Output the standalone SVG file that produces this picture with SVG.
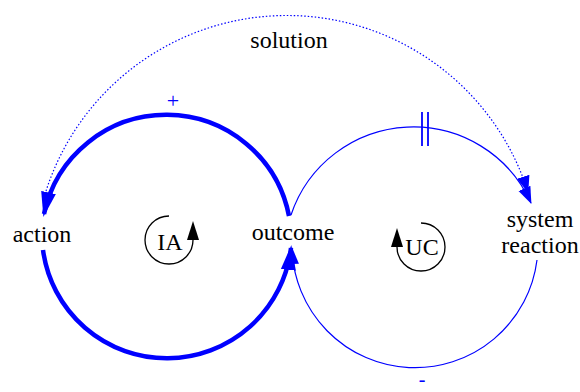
<svg xmlns="http://www.w3.org/2000/svg" width="580" height="392" viewBox="0 0 580 392">
<style>
text{font-family:"Liberation Serif","Times New Roman","DejaVu Serif",serif;fill:#000}
.lbl{font-size:24px;text-anchor:middle}
.pol{font-size:22px;fill:#0000ff;text-anchor:middle}
.thick{fill:none;stroke:#0000ff;stroke-width:4.5}
.thin{fill:none;stroke:#0000ff;stroke-width:1.2}
.dot{fill:none;stroke:#0000ff;stroke-width:1.2;stroke-dasharray:1.5 2}
.loop{fill:none;stroke:#000;stroke-width:1.3}
</style>
<defs>
<marker id="ahThick" markerUnits="userSpaceOnUse" markerWidth="26" markerHeight="16" refX="22" refY="7.5" orient="auto">
<path d="M0,0 L25,7.5 L0,15 z" fill="#0000ff"/>
</marker>
<marker id="ahThin" markerUnits="userSpaceOnUse" markerWidth="18" markerHeight="14" refX="16" refY="6.5" orient="auto">
<path d="M0,0 L17,6.5 L0,13 z" fill="#0000ff"/>
</marker>
<marker id="ahLoop" markerUnits="userSpaceOnUse" markerWidth="20" markerHeight="13" refX="0" refY="6" orient="auto">
<path d="M0,0 L19,6 L0,12 z" fill="#000"/>
</marker>
</defs>
<g id="connectors">
<path class="dot" d="M46,191 A253,253 0 0 1 528,192" marker-end="url(#ahThin)"/>
<path class="thick" d="M289,216 A125,125 0 0 0 44,214" marker-end="url(#ahThick)"/>
<path class="thick" d="M43,250 A125,125 0 0 0 291,248" marker-end="url(#ahThick)"/>
<path class="thin" d="M291,215 A129,129 0 0 1 531,203" marker-end="url(#ahThin)"/>
<path class="thin" d="M537,260 A123,123 0 0 1 292,248" marker-end="url(#ahThin)"/>
<line class="thin" x1="422" y1="112" x2="422" y2="146" style="stroke-width:1.8"/>
<line class="thin" x1="428" y1="112" x2="428" y2="146" style="stroke-width:1.8"/>
<text class="pol" x="173" y="108" font-family="Liberation Serif, serif">+</text>
<text class="pol" x="422" y="386" font-family="Liberation Serif, serif" style="font-size:20px">-</text>
<text class="lbl" x="289" y="48" font-family="Liberation Serif, serif">solution</text>
</g>
<g id="action"><text class="lbl" x="42" y="242" font-family="Liberation Serif, serif">action</text></g>
<g id="outcome"><text class="lbl" x="293" y="240" font-family="Liberation Serif, serif">outcome</text></g>
<g id="system-reaction"><text class="lbl" x="540" y="227" font-family="Liberation Serif, serif">system</text><text class="lbl" x="540" y="253" font-family="Liberation Serif, serif">reaction</text></g>
<g id="loop-IA">
<path class="loop" d="M169,216 A24,24 0 1 0 193,240" marker-end="url(#ahLoop)"/>
<text class="lbl" x="170" y="250" font-family="Liberation Serif, serif">IA</text>
</g>
<g id="loop-UC">
<path class="loop" d="M421,223 A24,24 0 1 1 397,247" marker-end="url(#ahLoop)"/>
<text class="lbl" x="422" y="255" font-family="Liberation Serif, serif">UC</text>
</g>
</svg>
